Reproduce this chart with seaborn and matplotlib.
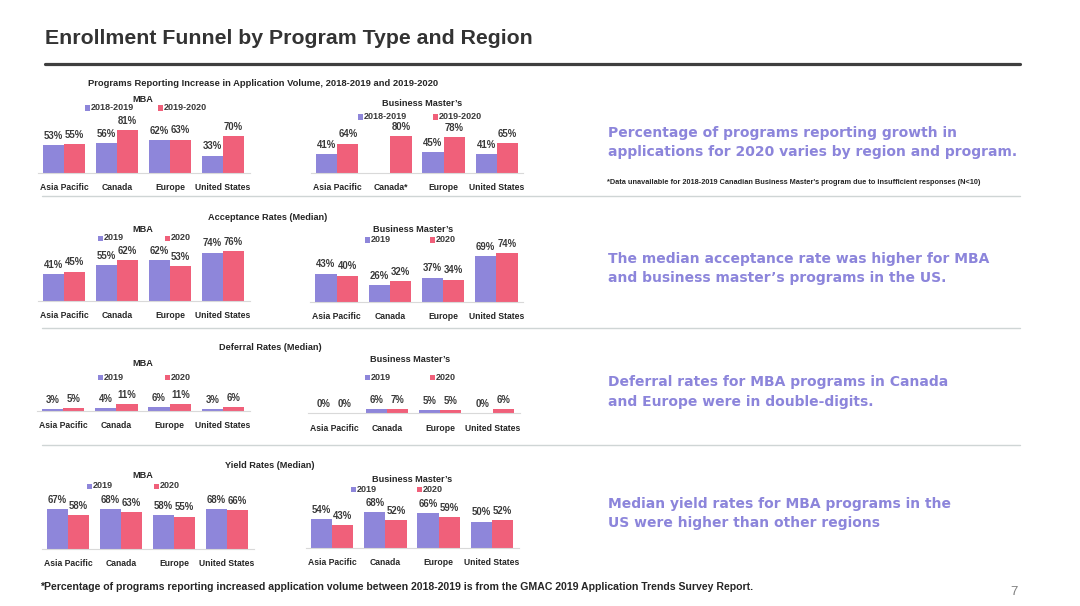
import matplotlib
matplotlib.use("Agg")
import matplotlib.pyplot as plt
from matplotlib.patches import Rectangle
from matplotlib.lines import Line2D
import seaborn as sns
import pandas as pd
import numpy as np

# ---------------- data ----------------
regions = ["Asia Pacific", "Canada", "Europe", "United States"]
regions_bm_app = ["Asia Pacific", "Canada*", "Europe", "United States"]

app_periods = ["2018-2019", "2019-2020"]
app_mba_1819 = [53, 56, 62, 33]
app_mba_1920 = [55, 81, 63, 70]
app_bm_1819 = [41, np.nan, 45, 41]
app_bm_1920 = [64, 80, 78, 65]

year_periods = ["2019", "2020"]
acc_mba_2019 = [41, 55, 62, 74]
acc_mba_2020 = [45, 62, 53, 76]
acc_bm_2019 = [43, 26, 37, 69]
acc_bm_2020 = [40, 32, 34, 74]

def_mba_2019 = [3, 4, 6, 3]
def_mba_2020 = [5, 11, 11, 6]
def_bm_2019 = [0, 6, 5, 0]
def_bm_2020 = [0, 7, 5, 6]

yld_mba_2019 = [67, 68, 58, 68]
yld_mba_2020 = [58, 63, 55, 66]
yld_bm_2019 = [54, 68, 66, 50]
yld_bm_2020 = [43, 52, 59, 52]

PURPLE = "#8E86DA"
PINK = "#F0607A"
TXT_PURPLE = "#8C85DB"
DARK = "#333333"

sns.set_theme(style="white")
plt.rcParams["font.family"] = ["Liberation Sans", "DejaVu Sans"]

W, H = 1080, 606
fig = plt.figure(figsize=(W / 100, H / 100), dpi=100)
fig.patch.set_facecolor("white")


def fx(x):
    return x / W


def fy(y):
    return 1 - y / H


def make_df(cats, periods, s1, s2):
    rows = []
    for c, v in zip(cats, s1):
        rows.append((c, periods[0], v))
    for c, v in zip(cats, s2):
        rows.append((c, periods[1], v))
    df = pd.DataFrame(rows, columns=["region", "period", "value"])
    return df.dropna()


def chart(cats, periods, s1, s2, left, right, base, scale, label_pad=7):
    h = 75
    ax = fig.add_axes([fx(left), fy(base), (right - left) / W, h / H])
    ax.set_facecolor("none")
    df = make_df(cats, periods, s1, s2)
    sns.barplot(data=df, x="region", y="value", hue="period", order=cats,
                hue_order=periods, palette=[PURPLE, PINK], saturation=1,
                width=0.8, linewidth=0, legend=False, ax=ax)
    ax.set_xlim(-0.5, len(cats) - 0.5)
    ax.set_ylim(0, h / scale)
    for cont in ax.containers:
        ax.bar_label(cont, fmt="%d%%", padding=3, fontsize=6.9,
                     fontweight="bold", color="#3a3a3a")
    ax.set_xlabel("")
    ax.set_ylabel("")
    ax.set_yticks([])
    for s in ["top", "left", "right"]:
        ax.spines[s].set_visible(False)
    ax.spines["bottom"].set_color("#d9d9d9")
    ax.spines["bottom"].set_linewidth(0.8)
    ax.tick_params(axis="x", length=0, pad=label_pad, labelsize=6.2,
                   labelcolor="#262626")
    for lbl in ax.get_xticklabels():
        lbl.set_fontweight("bold")
    return ax


def legend(items, y):
    for x, color, label in items:
        fig.add_artist(Rectangle((fx(x), fy(y + 2.5)), 5 / W, 5 / H,
                                 transform=fig.transFigure, color=color,
                                 linewidth=0))
        fig.text(fx(x + 6), fy(y), label, fontsize=6.5, fontweight="bold",
                 color="#3a3a3a", va="center", ha="left")


def ctext(x, y, s, size=6.6):
    fig.text(fx(x), fy(y), s, fontsize=size, fontweight="bold",
             color="#262626", va="center", ha="center")


def hline(y, x0, x1, color, lw):
    fig.add_artist(Line2D([fx(x0), fx(x1)], [fy(y), fy(y)],
                          transform=fig.transFigure, color=color, lw=lw))


# ---------------- header ----------------
fig.text(fx(45), fy(38), "Enrollment Funnel by Program Type and Region",
         fontsize=15.3, fontweight="bold", color=DARK, va="center", ha="left")
hline(64, 45, 1020, "#3f3f3f", 2.3)

# ---------------- row 1 ----------------
ctext(263, 83, "Programs Reporting Increase in Application Volume, 2018-2019 and 2019-2020", 6.75)
ctext(143, 99, "MBA")
ctext(422, 104, "Business Master\u2019s")
legend([(85, PURPLE, "2018-2019"), (158, PINK, "2019-2020")], 108)
legend([(358, PURPLE, "2018-2019"), (433, PINK, "2019-2020")], 117)
chart(regions, app_periods, app_mba_1819, app_mba_1920, 37.5, 249.5, 173, 0.53)
chart(regions_bm_app, app_periods, app_bm_1819, app_bm_1920, 310.5, 523.5, 173, 0.46)

# ---------------- row 2 ----------------
ctext(268, 218, "Acceptance Rates (Median)")
ctext(143, 229, "MBA")
ctext(413, 229, "Business Master\u2019s")
legend([(98, PURPLE, "2019"), (165, PINK, "2020")], 238)
legend([(365, PURPLE, "2019"), (430, PINK, "2020")], 240)
chart(regions, year_periods, acc_mba_2019, acc_mba_2020, 37.5, 249.5, 301, 0.655)
chart(regions, year_periods, acc_bm_2019, acc_bm_2020, 310, 523, 302, 0.66)

# ---------------- row 3 ----------------
ctext(270, 347, "Deferral Rates (Median)")
ctext(143, 363, "MBA")
ctext(410, 360, "Business Master\u2019s")
legend([(98, PURPLE, "2019"), (165, PINK, "2020")], 377)
legend([(365, PURPLE, "2019"), (430, PINK, "2020")], 377)
chart(regions, year_periods, def_mba_2019, def_mba_2020, 36.5, 249.5, 411, 0.64)
chart(regions, year_periods, def_bm_2019, def_bm_2020, 307.5, 519.5, 413, 0.6, label_pad=8)

# ---------------- row 4 ----------------
ctext(270, 465, "Yield Rates (Median)")
ctext(143, 476, "MBA")
ctext(412, 479, "Business Master\u2019s")
legend([(87, PURPLE, "2019"), (154, PINK, "2020")], 486)
legend([(351, PURPLE, "2019"), (417, PINK, "2020")], 489)
chart(regions, year_periods, yld_mba_2019, yld_mba_2020, 41.5, 253.5, 549, 0.59)
chart(regions, year_periods, yld_bm_2019, yld_bm_2020, 305.5, 518.5, 548, 0.53)

# ---------------- separators ----------------
for y in (196, 328, 445):
    hline(y, 42, 1020, "#cfd5d5", 1.0)

# ---------------- right-hand commentary ----------------
def rtext(y, s):
    fig.text(fx(608), fy(y), s, fontsize=10.0, fontweight="bold",
             color=TXT_PURPLE, va="center", ha="left", family="DejaVu Sans")

rtext(133, "Percentage of programs reporting growth in")
rtext(152, "applications for 2020 varies by region and program.")
fig.text(fx(607), fy(182),
         "*Data unavailable for 2018-2019 Canadian Business Master's program due to insufficient responses (N<10)",
         fontsize=5.3, fontweight="bold", color="#262626", va="center", ha="left")
rtext(259, "The median acceptance rate was higher for MBA")
rtext(278, "and business master\u2019s programs in the US.")
rtext(382, "Deferral rates for MBA programs in Canada")
rtext(402, "and Europe were in double-digits.")
rtext(504, "Median yield rates for MBA programs in the")
rtext(523, "US were higher than other regions")

# ---------------- footer ----------------
fig.text(fx(40), fy(587),
         "*Percentage of programs reporting increased application volume between 2018-2019 is from the GMAC 2019 Application Trends Survey Report.",
         fontsize=7.6, fontweight="bold", color="#262626", va="center", ha="left")
fig.text(fx(1014), fy(592), "7", fontsize=9.5, color="#808080",
         va="center", ha="center")

fig.savefig("out.png", dpi=100, facecolor="white")
